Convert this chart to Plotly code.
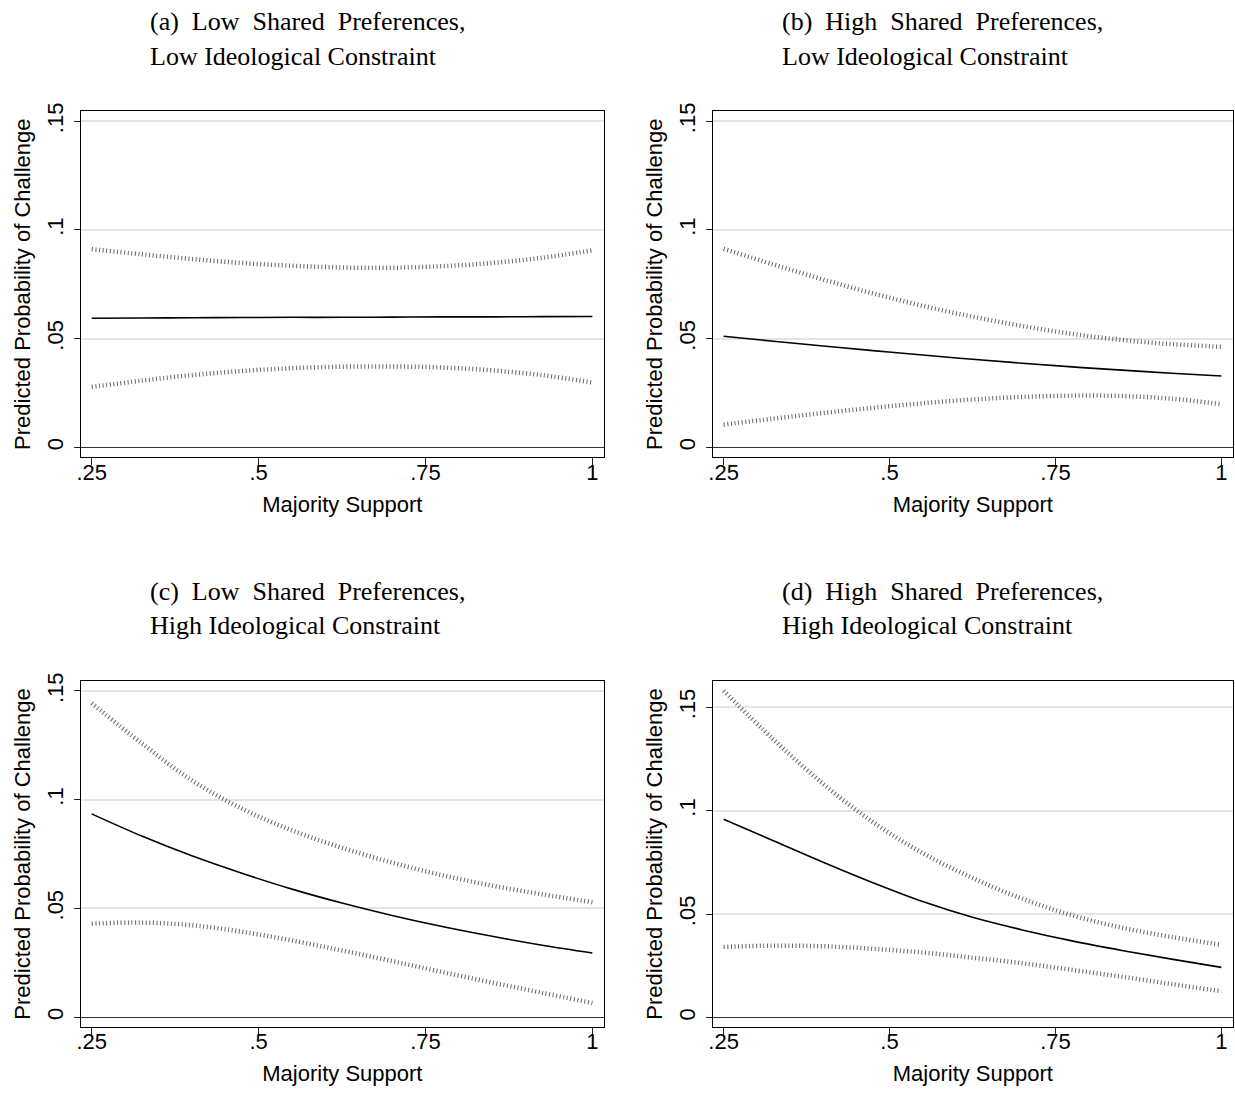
import plotly.graph_objects as go

# ---------------- data ----------------
support = [0.25, 0.325, 0.4, 0.475, 0.55, 0.625, 0.7, 0.775, 0.85, 0.925, 1.0]

a_mean = [0.0594, 0.0595, 0.0596, 0.0597, 0.0598, 0.0598, 0.0599, 0.0600, 0.0600, 0.0601, 0.0602]
a_upper = [0.0911, 0.0888, 0.0866, 0.0848, 0.0835, 0.0827, 0.0826, 0.0833, 0.0848, 0.0872, 0.0906]
a_lower = [0.0278, 0.0307, 0.0332, 0.0351, 0.0364, 0.0371, 0.0372, 0.0367, 0.0354, 0.0332, 0.0298]

b_mean = [0.0511, 0.0488, 0.0466, 0.0445, 0.0425, 0.0405, 0.0387, 0.0370, 0.0355, 0.0341, 0.0328]
b_upper = [0.0913, 0.0841, 0.0772, 0.0708, 0.0651, 0.0601, 0.0558, 0.0522, 0.0494, 0.0475, 0.0462]
b_lower = [0.0105, 0.0132, 0.0158, 0.0182, 0.0203, 0.0220, 0.0232, 0.0238, 0.0236, 0.0224, 0.0198]

c_mean = [0.0935, 0.0833, 0.0742, 0.0662, 0.0589, 0.0525, 0.0468, 0.0417, 0.0372, 0.0331, 0.0295]
c_upper = [0.1444, 0.1259, 0.1089, 0.0959, 0.0859, 0.0779, 0.0711, 0.0653, 0.0605, 0.0565, 0.0529]
c_lower = [0.0430, 0.0435, 0.0423, 0.0393, 0.0353, 0.0307, 0.0258, 0.0208, 0.0159, 0.0112, 0.0065]

d_mean = [0.0959, 0.0855, 0.0751, 0.0652, 0.0561, 0.0485, 0.0424, 0.0371, 0.0325, 0.0283, 0.0243]
d_upper = [0.1580, 0.1345, 0.1130, 0.0945, 0.0795, 0.0675, 0.0575, 0.0495, 0.0435, 0.0390, 0.0352]
d_lower = [0.0342, 0.0348, 0.0345, 0.0333, 0.0315, 0.0290, 0.0263, 0.0231, 0.0198, 0.0162, 0.0128]

panel_titles = [
    ("(a)\u2002Low\u2002Shared\u2002Preferences,", "Low Ideological Constraint"),
    ("(b)\u2002High\u2002Shared\u2002Preferences,", "Low Ideological Constraint"),
    ("(c)\u2002Low\u2002Shared\u2002Preferences,", "High Ideological Constraint"),
    ("(d)\u2002High\u2002Shared\u2002Preferences,", "High Ideological Constraint"),
]

x_ticks = [0.25, 0.5, 0.75, 1.0]
x_ticktext = [".25", ".5", ".75", "1"]
y_ticks = [0, 0.05, 0.1, 0.15]
y_ticktext = ["0", ".05", ".1", ".15"]

x_label = "Majority Support"
y_label = "Predicted Probability of Challenge"

# ---------------- layout geometry ----------------
W, H = 1235, 1095
SANS = "Liberation Sans, Arial, Helvetica, sans-serif"
SERIF = "Liberation Serif, Times New Roman, serif"

panels = [
    dict(mean=a_mean, up=a_upper, lo=a_lower, xd=(77, 602), yd=(103, 452), yr=(-0.00456, 0.1546), tx=144, ty=(13, 48)),
    dict(mean=b_mean, up=b_upper, lo=b_lower, xd=(711, 1233), yd=(103, 452), yr=(-0.00456, 0.1546), tx=779, ty=(13, 48)),
    dict(mean=c_mean, up=c_upper, lo=c_lower, xd=(77, 602), yd=(678, 1026), yr=(-0.0043, 0.1544), tx=144, ty=(587, 622)),
    dict(mean=d_mean, up=d_upper, lo=d_lower, xd=(711, 1233), yd=(678, 1026), yr=(-0.0043, 0.1625), tx=779, ty=(587, 622)),
]

fig = go.Figure()
layout = dict(
    width=W, height=H,
    margin=dict(l=0, r=0, t=0, b=0),
    paper_bgcolor="white", plot_bgcolor="white",
    showlegend=False,
    font=dict(family=SANS, size=22, color="black"),
    annotations=[],
)

for i, p in enumerate(panels):
    n = "" if i == 0 else str(i + 1)
    xa, ya = "x" + n, "y" + n
    band = dict(color="#666666", width=4.5, dash="1px,2.6px", shape="spline")
    fig.add_trace(go.Scatter(x=support, y=p["up"], mode="lines", line=band, xaxis=xa, yaxis=ya, hoverinfo="skip"))
    fig.add_trace(go.Scatter(x=support, y=p["lo"], mode="lines", line=band, xaxis=xa, yaxis=ya, hoverinfo="skip"))
    fig.add_trace(go.Scatter(x=support, y=p["mean"], mode="lines",
                             line=dict(color="black", width=1.6, shape="spline"), xaxis=xa, yaxis=ya))

    xl, xr = p["xd"]
    yt, yb = p["yd"]
    layout["xaxis" + n] = dict(
        domain=[xl / W, xr / W], range=[0.2336, 1.0175], anchor=ya,
        showgrid=False, zeroline=False,
        showline=True, linecolor="black", linewidth=1.2, mirror=True,
        ticks="outside", ticklen=7, tickwidth=1, tickcolor="#222",
        tickvals=x_ticks, ticktext=x_ticktext, ticklabelstandoff=-12,
        tickfont=dict(family=SANS, size=22, color="black"),
        title=dict(text=x_label, font=dict(family=SANS, size=22, color="black"), standoff=12),
    )
    layout["yaxis" + n] = dict(
        domain=[1 - yb / H, 1 - yt / H], range=list(p["yr"]), anchor=xa,
        showgrid=True, gridcolor="#e4e4e4", gridwidth=1.5,
        zeroline=True, zerolinecolor="#333333", zerolinewidth=1.2,
        showline=True, linecolor="black", linewidth=1.2, mirror=True,
        ticks="outside", ticklen=6, tickwidth=1, tickcolor="#222",
        tickvals=y_ticks, ticktext=y_ticktext, tickangle=-90, ticklabelstandoff=2,
        tickfont=dict(family=SANS, size=22, color="black"),
        title=dict(text=y_label, font=dict(family=SANS, size=22, color="black"), standoff=6),
    )
    for line_text, yy in zip(panel_titles[i], p["ty"]):
        layout["annotations"].append(dict(
            text=line_text, xref="paper", yref="paper",
            x=p["tx"] / W, y=1 - yy / H, xanchor="left", yanchor="middle",
            showarrow=False, font=dict(family=SERIF, size=26, color="black"),
        ))

fig.update_layout(**layout)
fig.write_html("out.html", config={"displayModeBar": False},
               post_script="document.body.style.margin='0';document.body.style.overflow='hidden';")
